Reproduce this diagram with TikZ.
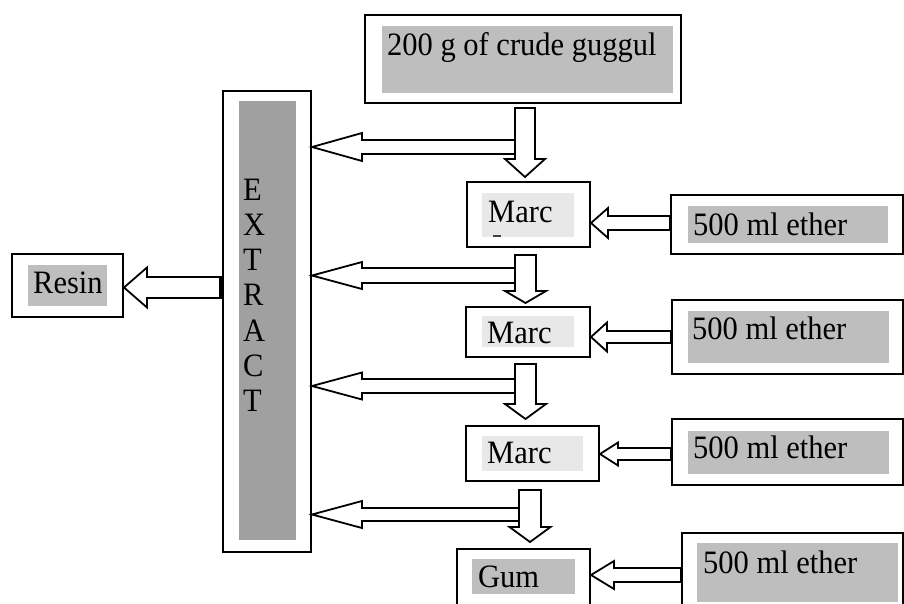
\documentclass[tikz,border=0pt]{standalone}
\usepackage{fontspec}
\setmainfont{Liberation Serif}
\usetikzlibrary{calc}

\definecolor{boxgrey}{HTML}{BEBEBE}
\definecolor{darkgrey}{HTML}{A0A0A0}
\definecolor{palegrey}{HTML}{E8E8E8}

\tikzset{
  frame/.style={rectangle, draw=black, line width=2pt, fill=white, inner sep=0pt},
  lbl/.style={inner sep=0pt, anchor=base west, font=\fontsize{30.5}{36}\selectfont},
  blk/.style={draw=black, fill=white, line width=1.8pt, line join=miter},
}
% slightly tall lettering
\newcommand\tall[1]{\scalebox{1}[1.07]{#1}}

% hollow block arrow pointing down: #1 top of shaft, #2 tip,
% #3 half shaft width, #4 half head width, #5 head length
\newcommand\blockdown[5]{%
  \draw[blk] ($(#1)+(-#3,0)$) -- ($(#1)+(#3,0)$) -- ($(#2)+(#3,-#5)$)
    -- ($(#2)+(#4,-#5)$) -- (#2) -- ($(#2)+(-#4,-#5)$) -- ($(#2)+(-#3,-#5)$) -- cycle;}
% hollow block arrow pointing left: #1 right end of shaft, #2 tip
\newcommand\blockleft[5]{%
  \draw[blk] ($(#1)+(0,-#3)$) -- ($(#2)+(#5,-#3)$) -- ($(#2)+(#5,-#4)$)
    -- (#2) -- ($(#2)+(#5,#4)$) -- ($(#2)+(#5,#3)$) -- ($(#1)+(0,#3)$) -- cycle;}

\begin{document}
\begin{tikzpicture}[x=1pt, y=-1pt]
\useasboundingbox (0,0) rectangle (904,603);
\clip (0,0) rectangle (904,603);

% outer frames
\node[frame, minimum width=316pt, minimum height=88pt]  (crude)   at (523,59) {};
\node[frame, minimum width=88pt,  minimum height=461pt] (extract) at (267,321.5) {};
\node[frame, minimum width=111pt, minimum height=63pt]  (resin)   at (67.5,285.5) {};
\node[frame, minimum width=123pt, minimum height=65pt]  (marc1)   at (528.5,214.5) {};
\node[frame, minimum width=232pt, minimum height=59pt]  (ether1)  at (787,224.5) {};
\node[frame, minimum width=124pt, minimum height=50pt]  (marc2)   at (528,332) {};
\node[frame, minimum width=231pt, minimum height=74pt]  (ether2)  at (787.5,337) {};
\node[frame, minimum width=133pt, minimum height=55pt]  (marc3)   at (532.5,453.5) {};
\node[frame, minimum width=231pt, minimum height=66pt]  (ether3)  at (787.5,452) {};
\node[frame, minimum width=133pt, minimum height=66pt]  (gum)     at (523.5,582) {};
\node[frame, minimum width=221pt, minimum height=82pt]  (ether4)  at (792.5,574) {};

% shaded panels inside the frames
\fill[boxgrey]   (382,26) rectangle (673,93);
\fill[darkgrey]  (239,101) rectangle (296,540);
\fill[boxgrey]   (28,265) rectangle (107,306);
\fill[palegrey]  (482,193) rectangle (574,237);
\fill[boxgrey]   (688,206) rectangle (888,243);
\fill[palegrey]  (482,316) rectangle (574,347);
\fill[boxgrey]   (688,311) rectangle (889,363);
\fill[palegrey]  (482,436) rectangle (583,471);
\fill[boxgrey]   (688,431) rectangle (889,474);
\fill[boxgrey]   (472,559) rectangle (575,594);
\fill[boxgrey]   (697,543) rectangle (898,602);

% labels
\node[lbl] (tcrude) at (387,55)  {\tall{200 g of crude guggul}};
\node[lbl] (tresin) at (33,293)  {\tall{Resin}};
\node[lbl] (tmarc1) at (488,222) {\tall{Marc}};
\draw[line width=1.2pt, black!75] (493,236) -- (501,236);
\node[lbl] (tmarc2) at (487,343) {\tall{Marc}};
\node[lbl] (tmarc3) at (487,463) {\tall{Marc}};
\node[lbl] (tgum)   at (478,587) {\tall{Gum}};
\node[lbl] (teth1)  at (693,235) {\tall{500 ml ether}};
\node[lbl] (teth2)  at (692,339) {\tall{500 ml ether}};
\node[lbl] (teth3)  at (693,458) {\tall{500 ml ether}};
\node[lbl] (teth4)  at (703,573) {\tall{500 ml ether}};
\foreach \ch [count=\i from 0] in {E,X,T,R,A,C,T}
  \node[lbl] (ext\i) at (243,200+35.3*\i) {\tall{\ch}};

% flow of the marc downwards, extract to the left
\coordinate (s1) at ($(crude.south)+(2,4)$);
\coordinate (t1) at ($(s1 |- marc1.north)+(0,-4)$);
\coordinate (h1) at ($(s1)+(-10,39)$);
\coordinate (x1) at (extract.east |- h1);
\blockleft{h1}{x1}{7}{14}{50}
\blockdown{s1}{t1}{10}{20}{18}

\coordinate (s2) at ($(marc1.south)+(-3,7)$);
\coordinate (t2) at ($(s2 |- marc2.north)+(0,-3)$);
\coordinate (h2) at ($(s2)+(-10.5,20.5)$);
\coordinate (x2) at (extract.east |- h2);
\blockleft{h2}{x2}{7.5}{13.5}{50}
\blockdown{s2}{t2}{10.5}{20.5}{12}

\coordinate (s3) at ($(marc2.south)+(-2.5,6)$);
\coordinate (t3) at ($(s3 |- marc3.north)+(0,-6)$);
\coordinate (h3) at ($(s3)+(-10.5,22)$);
\coordinate (x3) at (extract.east |- h3);
\blockleft{h3}{x3}{7}{13.5}{50}
\blockdown{s3}{t3}{10.5}{20.5}{15}

\coordinate (s4) at ($(marc3.south)+(-2.5,8)$);
\coordinate (t4) at ($(s4 |- gum.north)+(0,-6)$);
\coordinate (h4) at ($(s4)+(-11,24.5)$);
\coordinate (x4) at (extract.east |- h4);
\blockleft{h4}{x4}{6.5}{13.5}{50}
\blockdown{s4}{t4}{11}{20.5}{15}

% ether fed into each stage
\coordinate (e1) at ($(ether1.west)+(0,-1.5)$);
\coordinate (f1) at (marc1.east |- e1);
\blockleft{e1}{f1}{7}{15}{17}
\coordinate (e2) at (ether2.west);
\coordinate (f2) at (marc2.east |- e2);
\blockleft{e2}{f2}{6}{14.5}{16}
\coordinate (e3) at ($(ether3.west)+(0,2)$);
\coordinate (f3) at (marc3.east |- e3);
\blockleft{e3}{f3}{6}{11.5}{18}
\coordinate (e4) at ($(ether4.west)+(0,1)$);
\coordinate (f4) at (gum.east |- e4);
\blockleft{e4}{f4}{7}{14}{23}

% extract to resin
\coordinate (r0) at ($(extract.west)+(0,-34)$);
\coordinate (r1) at (resin.east |- r0);
\blockleft{r0}{r1}{10.5}{20}{23}
\draw[line width=3pt] ($(r0)+(-1.5,-10.5)$) -- ($(r0)+(-1.5,10.5)$);
\end{tikzpicture}
\end{document}
